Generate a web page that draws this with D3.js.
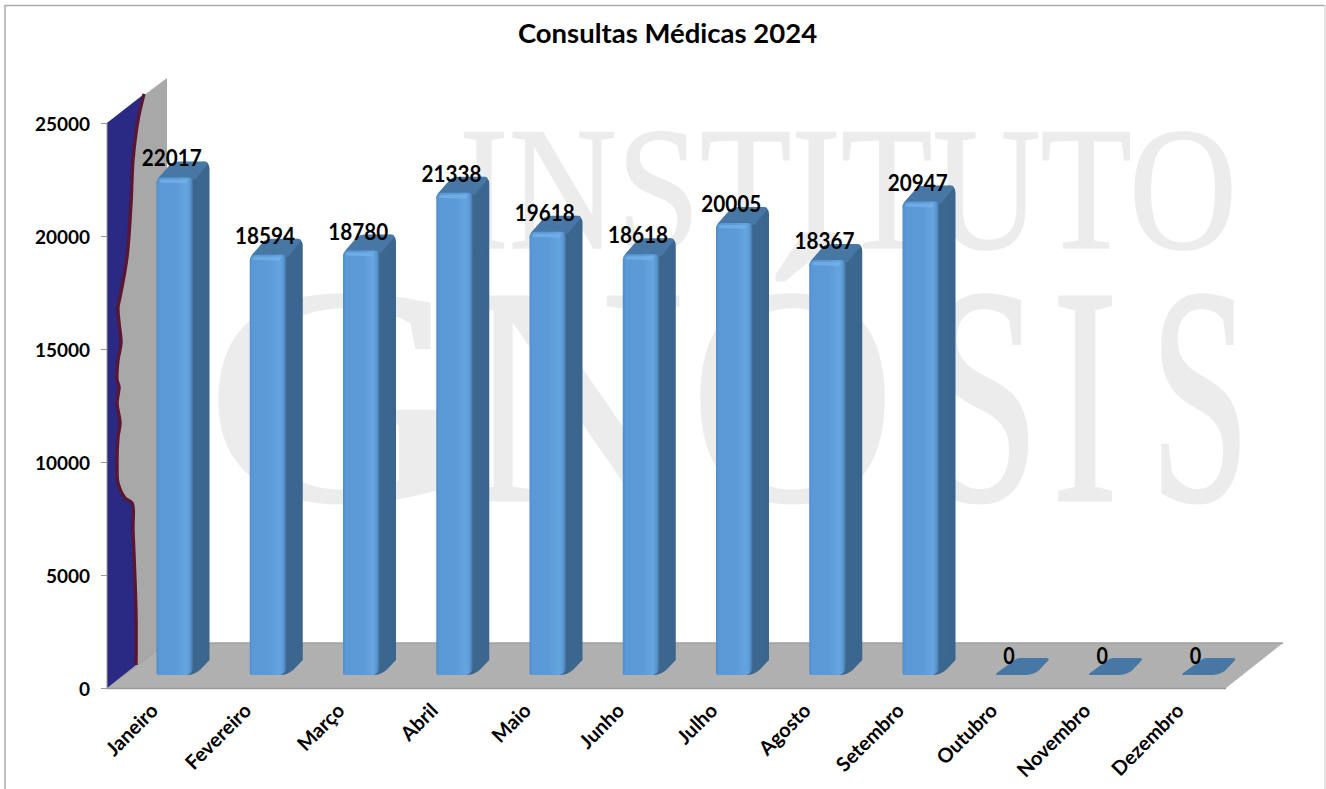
<!DOCTYPE html>
<html><head><meta charset="utf-8">
<script src="https://cdn.jsdelivr.net/npm/d3@7/dist/d3.min.js"></script>
<style>html,body{margin:0;padding:0;background:#fff}svg{display:block}text{font-family:Lato,"Open Sans",sans-serif;font-weight:700;fill:#000}</style>
</head><body><svg id="c" width="1326" height="789"></svg>
<script>
const categories=["Janeiro","Fevereiro","Março","Abril","Maio","Junho","Julho","Agosto","Setembro","Outubro","Novembro","Dezembro"];
const consultas=[22017,18594,18780,21338,19618,18618,20005,18367,20947,0,0,0];
const yTicks=[0,5000,10000,15000,20000,25000];
const wallEdgeValue=[25058,24106,22500,20664,18407,16867,16496,15752,14801,14150,13296,12920,12279,11292,10743,9447,8708,7810,7354,6128,2358,58];
const wallEdgeDepth=[.617,.517,.433,.4,.333,.217,.183,.2,.233,.183,.167,.2,.167,.217,.183,.167,.183,.3,.417,.433,.483,.483];
const titleText="Consultas Médicas 2024";
const watermark=["INSTITUTO","GNÓSIS"];

const svg=d3.select("#c");
const plot={l:107,r:1226,top:123,bottom:688,dx:60,dy:45};
const y=d3.scaleLinear().domain([0,25000]).range([plot.bottom,plot.top]);
const x=d3.scaleBand().domain(categories).range([plot.l,plot.r]);

const defs=svg.append("defs");
const f=defs.append("linearGradient").attr("id","front");
[[0,"#4f8dca"],[.07,"#5a99d6"],[.55,"#5b9ad7"],[.82,"#64a5e0"],[.92,"#5b98d2"],[1,"#44729f"]].forEach(s=>f.append("stop").attr("offset",s[0]).attr("stop-color",s[1]));
const sd=defs.append("linearGradient").attr("id","side");
[[0,"#38628a"],[.5,"#3c6890"],[1,"#39658e"]].forEach(s=>sd.append("stop").attr("offset",s[0]).attr("stop-color",s[1]));
defs.append("filter").attr("id","soft").append("feGaussianBlur").attr("stdDeviation",.6);

// frame
svg.append("path").attr("fill","none").attr("stroke","#ababab").attr("stroke-width",1.5).attr("d",d3.line()([[5,789],[5,5.5],[1325,5.5]]));
svg.append("line").attr("x1",1325).attr("x2",1325).attr("y1",5).attr("y2",789).attr("stroke","#dcdcdc").attr("stroke-width",1.5);

// watermark
const wm=(sel,w)=>sel.style("font-family","'Liberation Serif'").style("font-weight",400).style("fill","#ececec").style("stroke","#ececec").style("stroke-width",w+"px");
svg.append("text").text(watermark[0]).attr("x",459).attr("y",248).call(wm,1.5).style("font-size","176px").attr("textLength",778).attr("lengthAdjust","spacingAndGlyphs");
const wmX=[205,460,690,925,1052,1150], wmW=[265,225,205,115,66,100];
const g2=svg.append("text").attr("y",500).call(wm,3).style("font-size","310px");
g2.selectAll("tspan").data(Array.from(watermark[1])).join("tspan").text(d=>d).attr("x",(d,i)=>wmX[i]).attr("textLength",(d,i)=>wmW[i]).attr("lengthAdjust","spacingAndGlyphs");

// wall and floor
const pt=(px,d,v)=>[px+plot.dx*d,y(v)-plot.dy*d];
svg.append("path").attr("fill","#a8a8a8").attr("d",d3.line()([pt(plot.l,0,0),pt(plot.l,0,25000),pt(plot.l,1,25000),pt(plot.l,1,0)])+"Z");
svg.append("path").attr("fill","#b0b0b0").attr("d",d3.line()([pt(plot.l,0,0),pt(plot.r,0,0),pt(plot.r-3,1,0),pt(plot.l,1,0)])+"Z");
svg.append("path").attr("fill","none").attr("stroke","#a0a0a0").attr("stroke-width",1.5).attr("d",d3.line()([pt(plot.l,1,0),pt(plot.r-3,1,0)]));
svg.append("path").attr("fill","none").attr("stroke","#9a9a9a").attr("stroke-width",1).attr("d",d3.line()([pt(plot.l,0,0),pt(plot.l,1,0)]));
// wall figure
const edge=wallEdgeValue.map((v,i)=>pt(plot.l,wallEdgeDepth[i],v));
const edgeLine=d3.line().curve(d3.curveCatmullRom.alpha(.5));
svg.append("path").attr("fill","#2a2a85").attr("d",edgeLine(edge)+"L"+pt(plot.l,0,0)+"L"+pt(plot.l,0,25000)+"Z");
svg.append("path").attr("fill","none").attr("stroke","#5a1530").attr("stroke-width",3.4).attr("filter","url(#soft)").attr("d",edgeLine(edge));

// axes
svg.append("line").attr("x1",plot.l).attr("x2",plot.l).attr("y1",y(25000)).attr("y2",y(0)).attr("stroke","#999");
svg.append("line").attr("x1",plot.l).attr("x2",plot.r).attr("y1",y(0)+.5).attr("y2",y(0)+.5).attr("stroke","#999").attr("stroke-width",1.5);
const yAxis=svg.append("g").attr("transform",`translate(${plot.l},0)`).call(d3.axisLeft(y).tickValues(yTicks).tickSize(6).tickPadding(11).tickFormat(d3.format("d")));
yAxis.select(".domain").remove();
yAxis.selectAll("line").attr("stroke","#999");
yAxis.selectAll("text").attr("dy","0.38em").style("font-size","19px").style("font-family","Lato").style("font-weight",700).attr("fill","#000");

// bars
const fx=50,fw=36.5,ox=16.5,oy=15,baseVal=575;
const bars=svg.append("g").selectAll("g").data(categories).join("g");
bars.each(function(c,i){
  const g=d3.select(this),v=consultas[i];
  const x0=x(c)+fx-.5,x1=x0+fw,yb=y(baseVal),yt=y(baseVal+v);
  if(v===0){
    g.append("path").attr("fill","#4677a5").attr("d",`M${x0+3} ${yb}Q${x0-2} ${yb} ${x0+1} ${yb-2}L${x0+ox+1} ${yb-oy+1}Q${x0+ox+4} ${yb-oy-2} ${x0+ox+8} ${yb-oy-2}L${x1+ox-3} ${yb-oy-2}Q${x1+ox+2} ${yb-oy-2} ${x1+ox-1} ${yb-oy+1}L${x1+6} ${yb-4}Q${x1} ${yb} ${x1-7} ${yb}Z`);
  } else {
    g.append("path").attr("fill","url(#side)").attr("d",`M${x1-5} ${yt+1}L${x1+ox-7} ${yt-oy-1}Q${x1+ox} ${yt-oy-1} ${x1+ox} ${yt-oy+6}L${x1+ox} ${yb-oy}L${x1+7} ${yb-5}Q${x1+1} ${yb} ${x1-6} ${yb}Z`);
    g.append("path").attr("fill","#4677a5").attr("d",`M${x0} ${yt+6}Q${x0} ${yt+2} ${x0+4} ${yt-2}L${x0+ox-2} ${yt-oy+1}Q${x0+ox+1} ${yt-oy-1} ${x0+ox+6} ${yt-oy-1}L${x1+ox-5} ${yt-oy-1}Q${x1+ox} ${yt-oy-1} ${x1+ox-3} ${yt-oy+3}L${x1+2} ${yt+2}Z`);
    g.append("path").attr("fill","url(#front)").attr("d",`M${x0} ${yt+6}Q${x0} ${yt} ${x0+6} ${yt}L${x1-5} ${yt}Q${x1} ${yt} ${x1} ${yt+5}L${x1} ${yb-6}Q${x1-2} ${yb} ${x1-8} ${yb}L${x0+2} ${yb}Q${x0} ${yb} ${x0} ${yb-2}Z`);
    g.append("path").attr("fill","#74b0e8").attr("opacity",.8).attr("filter","url(#soft)").attr("d",`M${x0+3} ${yt+5}Q${x0+3} ${yt+2} ${x0+6} ${yt+2}L${x1-5} ${yt+2}L${x1-7} ${yt+6}Z`);
  }
});
// value labels
svg.append("g").selectAll("text").data(categories).join("text")
  .text((c,i)=>consultas[i])
  .attr("x",(c,i)=>x(c)+fx+fw/2-3.5-(consultas[i]?0:2)).attr("y",(c,i)=>y(baseVal+consultas[i])-11)
  .attr("text-anchor","middle").style("font-size","22px")
  .attr("textLength",(c,i)=>consultas[i]?60:11.5).attr("lengthAdjust","spacingAndGlyphs");
// category labels
svg.append("g").selectAll("text").data(categories).join("text")
  .text(c=>c)
  .attr("text-anchor","end")
  .attr("transform",c=>`translate(${x(c)+47.5},${y(0)+19}) rotate(-45)`)
  .attr("dy","0.35em").style("font-size","20px");
// title
svg.append("text").text(titleText).attr("x",667.5).attr("y",43).attr("text-anchor","middle").style("font-size","27.5px");
</script></body></html>
